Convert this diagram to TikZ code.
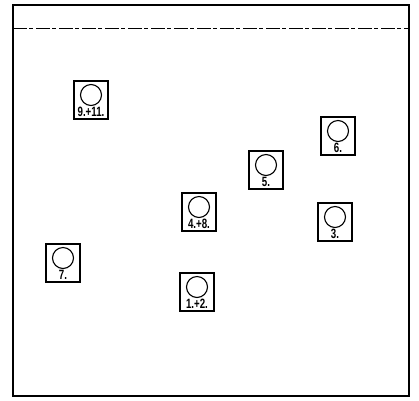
\documentclass[tikz,border=0pt]{standalone}
\usepackage{fontspec}
\setsansfont{Liberation Sans}
\begin{document}
\begin{tikzpicture}[x=1pt,y=-1pt,
  stationbox/.style={draw,line width=1.1pt,minimum width=34pt,minimum height=38pt,inner sep=0pt},
  ring/.style={draw,circle,line width=1.1pt,minimum size=21pt,inner sep=0pt},
  numlabel/.style={font=\sffamily\bfseries\fontsize{13.5}{13.5}\selectfont\addfontfeature{FakeStretch=0.72},inner sep=0pt}]
\useasboundingbox (0,0) rectangle (419,400);
\node[draw,line width=1.3pt,minimum width=396pt,minimum height=391pt,inner sep=0pt] (frame) at (211,200.5) {};
\coordinate (dl) at (13,28);
\coordinate (dr) at (409,28);
\draw[line width=0.4pt,dash pattern=on 14pt off 2pt on 4pt off 3pt] (dl) -- (dr);
\foreach \n/\x/\y/\t in {a/91/100/9.+11., b/338/136/6., c/266/170/5., d/199/212/4.+8., e/335/222/3., f/63/263/7., g/197/292/1.+2.}{
  \node[stationbox] (\n) at (\x,\y) {};
  \node[ring,anchor=north] (\n c) at ([yshift=-3.5pt]\n.north) {};
  \node[numlabel,anchor=south] (\n t) at ([yshift=2.5pt]\n.south) {\t};
}
\end{tikzpicture}
\end{document}
